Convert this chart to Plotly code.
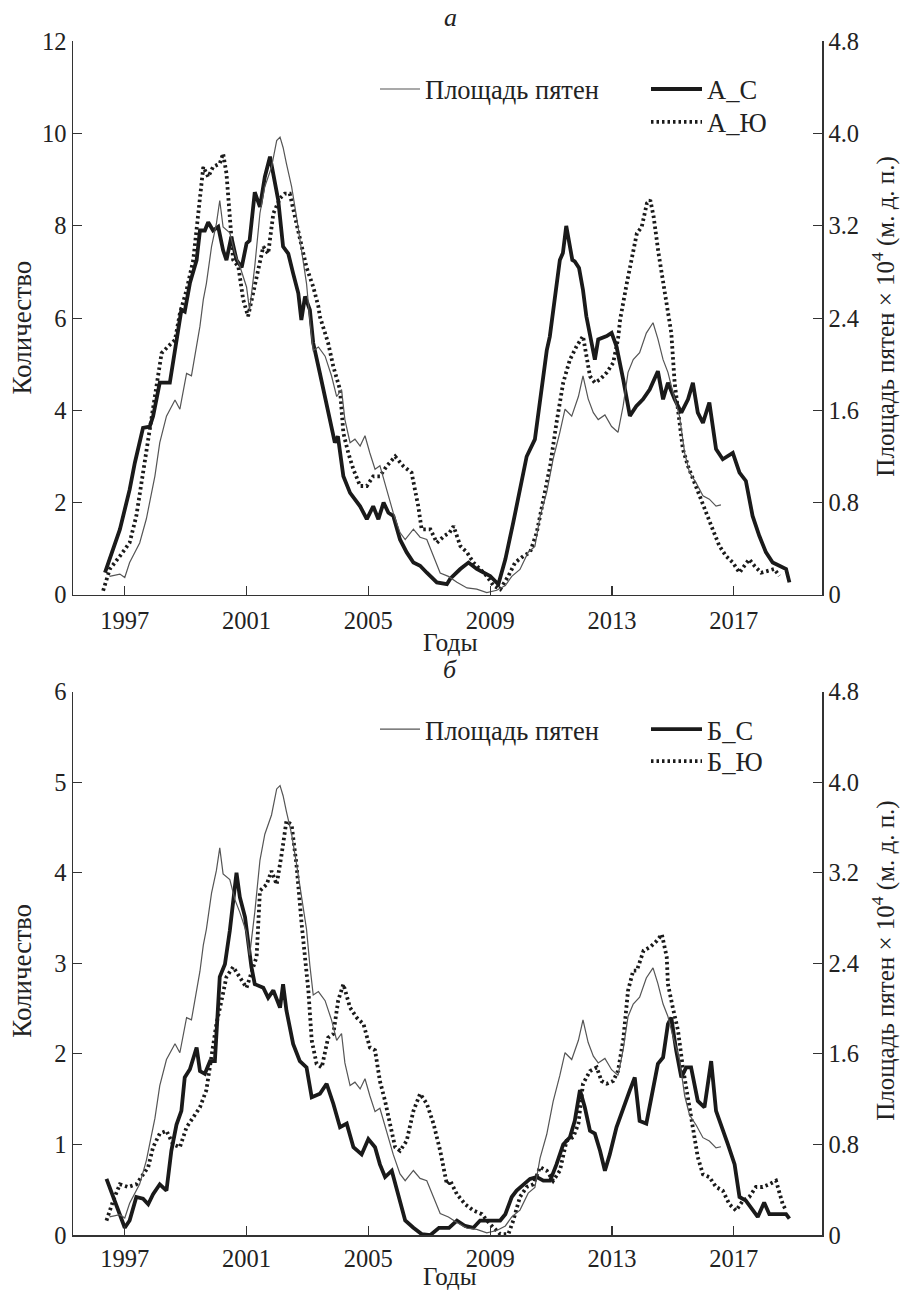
import plotly.graph_objects as go

# ---------------- data ----------------
# sunspot area, x 10^4 millionths of hemisphere (right axis), shared by both panels
area_years = [1996.50, 1996.84, 1997.00, 1997.16, 1997.49, 1997.71, 1997.99, 1998.15, 1998.37, 1998.65,
              1998.81, 1999.03, 1999.19, 1999.47, 1999.58, 1999.68, 1999.85, 2000.01, 2000.12, 2000.23,
              2000.45, 2000.62, 2000.78, 2001.00, 2001.10, 2001.27, 2001.44, 2001.60, 2001.82, 2001.99,
              2002.10, 2002.20, 2002.31, 2002.48, 2002.64, 2002.81, 2002.97, 2003.08, 2003.19, 2003.36,
              2003.58, 2003.79, 2003.96, 2004.12, 2004.23, 2004.40, 2004.56, 2004.73, 2004.89, 2005.05,
              2005.22, 2005.38, 2005.60, 2005.82, 2006.04, 2006.21, 2006.48, 2006.70, 2006.92, 2007.14,
              2007.36, 2007.63, 2007.91, 2008.24, 2008.56, 2008.89, 2009.22, 2009.50, 2009.71, 2009.98,
              2010.25, 2010.47, 2010.64, 2010.86, 2011.07, 2011.29, 2011.46, 2011.68, 2011.90, 2012.05,
              2012.22, 2012.39, 2012.55, 2012.77, 2012.99, 2013.20, 2013.37, 2013.53, 2013.70, 2013.91,
              2014.13, 2014.35, 2014.51, 2014.68, 2014.84, 2015.01, 2015.22, 2015.39, 2015.55, 2015.77,
              2015.99, 2016.20, 2016.42, 2016.58]
area_vals = [0.16, 0.18, 0.15, 0.28, 0.45, 0.66, 1.03, 1.32, 1.55, 1.69,
             1.61, 1.92, 1.90, 2.33, 2.56, 2.70, 3.02, 3.22, 3.42, 3.19,
             3.14, 2.96, 2.85, 2.67, 2.47, 2.85, 3.31, 3.54, 3.71, 3.94,
             3.97, 3.88, 3.74, 3.54, 3.28, 2.99, 2.70, 2.38, 2.12, 2.15,
             2.07, 1.90, 1.72, 1.78, 1.52, 1.32, 1.35, 1.29, 1.38, 1.23,
             1.09, 1.12, 0.92, 0.71, 0.54, 0.48, 0.57, 0.50, 0.48, 0.34,
             0.19, 0.16, 0.11, 0.06, 0.05, 0.02, 0.04, 0.08, 0.16, 0.22,
             0.37, 0.42, 0.68, 0.89, 1.18, 1.41, 1.61, 1.55, 1.72, 1.90,
             1.70, 1.58, 1.52, 1.56, 1.46, 1.41, 1.64, 1.93, 2.04, 2.10,
             2.27, 2.36, 2.22, 2.04, 1.93, 1.75, 1.55, 1.23, 1.06, 0.97,
             0.86, 0.83, 0.77, 0.78]

# panel a: А_С
ac_years = [1996.35, 1996.84, 1997.16, 1997.33, 1997.60, 1997.82, 1997.93, 1998.15, 1998.48, 1998.70,
            1998.86, 1998.97, 1999.14, 1999.36, 1999.47, 1999.63, 1999.74, 1999.90, 2000.07, 2000.23,
            2000.34, 2000.50, 2000.67, 2000.84, 2001.00, 2001.10, 2001.27, 2001.44, 2001.60, 2001.77,
            2001.88, 2002.04, 2002.20, 2002.37, 2002.53, 2002.70, 2002.80, 2002.92, 2003.08, 2003.19,
            2003.41, 2003.68, 2003.90, 2004.00, 2004.18, 2004.40, 2004.73, 2004.95, 2005.16, 2005.33,
            2005.50, 2005.66, 2005.82, 2006.04, 2006.26, 2006.48, 2006.70, 2006.92, 2007.25, 2007.58,
            2007.69, 2008.02, 2008.29, 2008.56, 2008.84, 2009.00, 2009.27, 2009.50, 2009.76, 2009.98,
            2010.20, 2010.47, 2010.64, 2010.86, 2010.96, 2011.07, 2011.18, 2011.29, 2011.39, 2011.50,
            2011.70, 2011.78, 2011.92, 2012.05, 2012.16, 2012.27, 2012.44, 2012.55, 2012.83, 2012.99,
            2013.15, 2013.37, 2013.59, 2013.80, 2014.02, 2014.24, 2014.51, 2014.68, 2014.84, 2015.06,
            2015.28, 2015.50, 2015.66, 2015.82, 2015.99, 2016.20, 2016.42, 2016.64, 2016.97, 2017.19,
            2017.40, 2017.62, 2017.84, 2018.06, 2018.28, 2018.50, 2018.72, 2018.83]
ac_vals = [0.48, 1.42, 2.28, 2.86, 3.62, 3.65, 3.87, 4.60, 4.60, 5.53,
           6.18, 6.14, 6.76, 7.26, 7.90, 7.90, 8.08, 7.90, 7.98, 7.47,
           7.26, 7.76, 7.26, 7.10, 7.62, 7.68, 8.73, 8.41, 9.06, 9.50,
           9.14, 8.56, 7.55, 7.40, 6.97, 6.54, 5.96, 6.47, 6.18, 5.46,
           4.80, 4.02, 3.30, 3.44, 2.57, 2.21, 1.92, 1.64, 1.92, 1.64,
           2.00, 1.78, 1.71, 1.20, 0.92, 0.70, 0.63, 0.48, 0.27, 0.23,
           0.35, 0.56, 0.70, 0.56, 0.45, 0.41, 0.23, 0.77, 1.57, 2.29,
           3.00, 3.37, 4.24, 5.30, 5.60, 6.11, 6.69, 7.26, 7.41, 8.00,
           7.26, 7.23, 7.09, 6.61, 6.04, 5.68, 5.10, 5.54, 5.61, 5.68,
           5.39, 4.67, 3.88, 4.09, 4.24, 4.45, 4.85, 4.24, 4.60, 4.24,
           3.95, 4.24, 4.60, 3.95, 3.73, 4.17, 3.16, 2.94, 3.08, 2.65,
           2.47, 1.71, 1.28, 0.92, 0.70, 0.63, 0.56, 0.27]

# panel a: А_Ю
ay_years = [1996.29, 1996.51, 1996.84, 1997.16, 1997.38, 1997.60, 1997.82, 1998.04, 1998.21, 1998.43,
            1998.65, 1998.81, 1999.03, 1999.25, 1999.41, 1999.58, 1999.74, 1999.90, 2000.12, 2000.23,
            2000.34, 2000.45, 2000.56, 2000.73, 2000.89, 2001.05, 2001.22, 2001.38, 2001.55, 2001.71,
            2001.88, 2002.10, 2002.26, 2002.42, 2002.59, 2002.75, 2002.97, 2003.19, 2003.36, 2003.41,
            2003.68, 2003.85, 2004.07, 2004.18, 2004.34, 2004.51, 2004.73, 2004.95, 2005.16, 2005.38,
            2005.60, 2005.88, 2006.15, 2006.42, 2006.64, 2006.75, 2007.04, 2007.25, 2007.50, 2007.67,
            2007.80, 2008.02, 2008.24, 2008.45, 2008.67, 2008.89, 2009.11, 2009.33, 2009.60, 2009.82,
            2010.09, 2010.31, 2010.53, 2010.75, 2010.97, 2011.18, 2011.40, 2011.62, 2011.84, 2012.05,
            2012.16, 2012.28, 2012.44, 2012.61, 2012.83, 2013.04, 2013.20, 2013.27, 2013.49, 2013.65,
            2013.82, 2013.98, 2014.15, 2014.26, 2014.37, 2014.53, 2014.70, 2014.86, 2014.95, 2015.06,
            2015.22, 2015.33, 2015.50, 2015.66, 2015.88, 2016.10, 2016.31, 2016.53, 2016.75, 2016.97,
            2017.19, 2017.35, 2017.51, 2017.68, 2017.90, 2018.12, 2018.33, 2018.50]
ay_vals = [0.09, 0.56, 0.84, 1.13, 1.71, 2.65, 3.51, 4.52, 5.24, 5.39,
           5.53, 6.10, 6.61, 7.26, 8.27, 9.28, 9.06, 9.28, 9.35, 9.57,
           9.14, 8.20, 7.26, 7.12, 6.40, 6.04, 6.60, 7.04, 7.55, 7.40,
           8.27, 8.60, 8.70, 8.70, 8.20, 7.70, 7.10, 6.68, 6.25, 6.03,
           5.46, 4.95, 4.45, 3.51, 3.08, 2.72, 2.36, 2.36, 2.57, 2.57,
           2.79, 3.00, 2.79, 2.65, 1.92, 1.42, 1.42, 1.13, 1.28, 1.35,
           1.49, 1.06, 0.92, 0.70, 0.56, 0.41, 0.20, 0.12, 0.41, 0.70,
           0.84, 0.92, 1.35, 2.07, 2.79, 3.73, 4.60, 5.10, 5.39, 5.61,
           5.18, 4.74, 4.60, 4.67, 4.82, 5.03, 5.54, 5.97, 6.76, 7.34,
           7.84, 7.98, 8.49, 8.56, 8.20, 7.41, 6.69, 5.97, 5.68, 4.60,
           3.66, 3.16, 2.79, 2.51, 2.14, 1.78, 1.42, 1.06, 0.84, 0.70,
           0.48, 0.63, 0.77, 0.63, 0.48, 0.52, 0.56, 0.41]

# panel б: Б_С
bc_years = [1996.40, 1996.67, 1997.00, 1997.16, 1997.38, 1997.60, 1997.77, 1997.93, 1998.15, 1998.37,
            1998.53, 1998.70, 1998.86, 1998.97, 1999.14, 1999.36, 1999.47, 1999.63, 1999.80, 1999.96,
            2000.12, 2000.29, 2000.45, 2000.67, 2000.78, 2000.95, 2001.10, 2001.16, 2001.27, 2001.55,
            2001.71, 2001.88, 2002.10, 2002.20, 2002.31, 2002.53, 2002.75, 2002.97, 2003.14, 2003.41,
            2003.63, 2003.85, 2004.07, 2004.29, 2004.51, 2004.78, 2005.00, 2005.22, 2005.38, 2005.55,
            2005.77, 2005.99, 2006.21, 2006.48, 2006.75, 2007.04, 2007.32, 2007.65, 2007.91, 2008.18,
            2008.45, 2008.67, 2009.00, 2009.33, 2009.50, 2009.71, 2009.87, 2010.09, 2010.31, 2010.53,
            2010.75, 2010.97, 2011.18, 2011.40, 2011.62, 2011.78, 2011.95, 2012.11, 2012.28, 2012.44,
            2012.61, 2012.77, 2012.93, 2013.15, 2013.37, 2013.59, 2013.75, 2013.91, 2014.13, 2014.35,
            2014.51, 2014.68, 2014.84, 2014.95, 2015.11, 2015.28, 2015.44, 2015.60, 2015.82, 2016.04,
            2016.26, 2016.42, 2016.58, 2016.81, 2017.03, 2017.19, 2017.40, 2017.62, 2017.79, 2018.00,
            2018.17, 2018.44, 2018.72, 2018.83]
bc_vals = [0.62, 0.38, 0.08, 0.16, 0.42, 0.40, 0.34, 0.45, 0.56, 0.49,
           0.93, 1.22, 1.37, 1.74, 1.83, 2.07, 1.81, 1.78, 1.92, 1.92,
           2.85, 2.99, 3.36, 4.00, 3.73, 3.51, 3.07, 2.96, 2.77, 2.73,
           2.62, 2.70, 2.51, 2.77, 2.48, 2.11, 1.92, 1.85, 1.52, 1.56,
           1.67, 1.45, 1.19, 1.23, 0.97, 0.89, 1.06, 0.97, 0.78, 0.64,
           0.71, 0.42, 0.16, 0.08, 0.01, 0.00, 0.08, 0.08, 0.16, 0.10,
           0.08, 0.16, 0.16, 0.16, 0.23, 0.42, 0.49, 0.56, 0.62, 0.64,
           0.60, 0.60, 0.78, 1.00, 1.08, 1.26, 1.60, 1.41, 1.15, 1.12,
           0.93, 0.71, 0.89, 1.19, 1.41, 1.60, 1.74, 1.26, 1.23, 1.60,
           1.89, 1.96, 2.33, 2.40, 2.04, 1.74, 1.85, 1.85, 1.48, 1.41,
           1.92, 1.37, 1.23, 1.00, 0.78, 0.42, 0.38, 0.27, 0.20, 0.36,
           0.23, 0.23, 0.23, 0.18]

# panel б: Б_Ю
by_years = [1996.40, 1996.62, 1996.84, 1997.11, 1997.38, 1997.60, 1997.77, 1997.93, 1998.15, 1998.37,
            1998.59, 1998.81, 1999.03, 1999.25, 1999.47, 1999.68, 1999.85, 2000.01, 2000.18, 2000.34,
            2000.56, 2000.78, 2001.00, 2001.22, 2001.33, 2001.44, 2001.66, 2001.82, 2001.99, 2002.15,
            2002.31, 2002.48, 2002.64, 2002.81, 2002.97, 2003.03, 2003.14, 2003.30, 2003.47, 2003.68,
            2003.85, 2004.01, 2004.18, 2004.40, 2004.62, 2004.84, 2005.05, 2005.22, 2005.38, 2005.55,
            2005.71, 2005.88, 2006.04, 2006.26, 2006.48, 2006.70, 2006.92, 2007.14, 2007.36, 2007.58,
            2007.69, 2007.91, 2008.18, 2008.45, 2008.73, 2009.00, 2009.33, 2009.60, 2009.76, 2009.98,
            2010.20, 2010.42, 2010.64, 2010.86, 2011.07, 2011.29, 2011.51, 2011.73, 2011.90, 2012.05,
            2012.28, 2012.50, 2012.66, 2012.83, 2013.04, 2013.20, 2013.37, 2013.53, 2013.70, 2013.82,
            2014.04, 2014.26, 2014.48, 2014.64, 2014.80, 2014.84, 2015.00, 2015.17, 2015.33, 2015.50,
            2015.66, 2015.82, 2015.99, 2016.20, 2016.42, 2016.64, 2016.86, 2017.08, 2017.30, 2017.51,
            2017.73, 2017.95, 2018.17, 2018.39, 2018.61, 2018.72]
by_vals = [0.16, 0.38, 0.56, 0.53, 0.56, 0.67, 0.75, 0.97, 1.12, 1.15,
           1.00, 0.97, 1.19, 1.30, 1.41, 1.60, 1.96, 2.33, 2.59, 2.85,
           2.96, 2.85, 2.73, 2.96, 3.07, 3.80, 3.87, 4.02, 3.87, 4.20,
           4.57, 4.53, 4.09, 3.43, 2.85, 2.70, 2.15, 1.89, 1.85, 2.18,
           2.22, 2.59, 2.77, 2.51, 2.40, 2.33, 2.07, 2.04, 1.70, 1.48,
           1.23, 0.97, 0.93, 1.04, 1.37, 1.56, 1.45, 1.23, 0.93, 0.56,
           0.60, 0.45, 0.34, 0.27, 0.23, 0.12, 0.01, 0.01, 0.16, 0.42,
           0.53, 0.56, 0.75, 0.71, 0.60, 0.71, 1.04, 1.08, 1.23, 1.67,
           1.81, 1.85, 1.70, 1.67, 1.70, 1.81, 2.15, 2.70, 2.92, 2.92,
           3.14, 3.18, 3.25, 3.32, 3.07, 2.77, 2.51, 2.26, 1.85, 1.52,
           1.15, 0.86, 0.67, 0.64, 0.53, 0.49, 0.34, 0.27, 0.38, 0.42,
           0.53, 0.53, 0.56, 0.60, 0.34, 0.27]

year_ticks = [1997, 2001, 2005, 2009, 2013, 2017]
left_ticks_a = [0, 2, 4, 6, 8, 10, 12]
left_ticks_b = [0, 1, 2, 3, 4, 5, 6]
right_ticks = [0, 0.8, 1.6, 2.4, 3.2, 4.0, 4.8]
right_ticktext = ["0", "0.8", "1.6", "2.4", "3.2", "4.0", "4.8"]

# ---------------- figure ----------------
FONT = "Liberation Serif"
W, H = 900, 1299
INK = "#222222"

# Layout targets are in picture pixels; the photographed page appears slightly
# reduced vertically and framed, so vertical targets are converted to page pixels.
SY, OY = 0.982, 12.5

def px_x(t):
    return t / W

def page_y(t):
    return (t - OY) / SY

def px_y(t):
    return min(max(1 - page_y(t) / H, 0.0), 1.0)

thin = dict(color="#555555", width=1.2)
thick = dict(color="#1a1a1a", width=3.8)
dotted = dict(color="#1a1a1a", width=3.8, dash="2.5px,3px")

fig = go.Figure()
traces = [
    (area_years, area_vals, "x", "y2", thin, "Площадь пятен", "legend"),
    (ac_years, ac_vals, "x", "y", thick, "А_С", "legend2"),
    (ay_years, ay_vals, "x", "y", dotted, "А_Ю", "legend3"),
    (area_years, area_vals, "x2", "y4", thin, "Площадь пятен", "legend4"),
    (bc_years, bc_vals, "x2", "y3", thick, "Б_С", "legend5"),
    (by_years, by_vals, "x2", "y3", dotted, "Б_Ю", "legend6"),
]
for xs, ys, xa, ya, ln, nm, lg in traces:
    fig.add_trace(go.Scatter(x=xs, y=ys, xaxis=xa, yaxis=ya, mode="lines", line=ln,
                             name=nm, legend=lg, hoverinfo="skip"))

xdom = [px_x(73), px_x(822)]
axis_common = dict(showline=True, linecolor="#333333", linewidth=1.5, ticks="inside",
                   ticklen=9, tickwidth=1.2, tickcolor="#333333", showgrid=False,
                   zeroline=False, tickfont=dict(family=FONT, size=24.5, color=INK))

def leg(xt, yt, iw):
    return dict(x=px_x(xt), y=px_y(yt), xanchor="left", yanchor="middle", itemwidth=iw,
                bgcolor="rgba(0,0,0,0)", font=dict(family=FONT, size=26.5, color=INK),
                tracegroupgap=0)

fig.update_layout(
    width=W, height=H, margin=dict(l=0, r=0, t=0, b=0),
    paper_bgcolor="white", plot_bgcolor="white", showlegend=True,
    font=dict(family=FONT, size=24.5, color=INK),
    xaxis=dict(domain=xdom, anchor="y", range=[1995.3, 2019.9], tickvals=year_ticks,
               ticklabelstandoff=3, **axis_common),
    yaxis=dict(domain=[px_y(596), px_y(41)], anchor="x", range=[0, 12], tickvals=left_ticks_a, **axis_common),
    yaxis2=dict(overlaying="y", side="right", anchor="x", range=[0, 4.8], tickvals=right_ticks,
                ticktext=right_ticktext, **axis_common),
    xaxis2=dict(domain=xdom, anchor="y3", range=[1995.3, 2019.9], tickvals=year_ticks,
                ticklabelstandoff=1, **axis_common),
    yaxis3=dict(domain=[px_y(1238), px_y(693)], anchor="x2", range=[0, 6], tickvals=left_ticks_b, **axis_common),
    yaxis4=dict(overlaying="y3", side="right", anchor="x2", range=[0, 4.8], tickvals=right_ticks,
                ticktext=right_ticktext, **axis_common),
    legend=leg(375, 89, 40),
    legend2=leg(646, 89, 51),
    legend3=leg(646, 122, 51),
    legend4=leg(375, 731, 40),
    legend5=leg(646, 731, 51),
    legend6=leg(646, 763, 51),
)

ann = [
    dict(text="<i>а</i>", x=px_x(450), y=1 - 5 / H, size=26),
    dict(text="<i>б</i>", x=px_x(450), y=px_y(671), size=26),
    dict(text="Годы", x=px_x(450), y=px_y(644), size=25.5),
    dict(text="Годы", x=px_x(450), y=1 - 1290 / H, size=25),
]
for a in ann:
    fig.add_annotation(text=a["text"], x=a["x"], y=a["y"], xref="paper", yref="paper",
                       xanchor="center", yanchor="middle", showarrow=False,
                       font=dict(family=FONT, size=a["size"], color=INK))

for yl, yr in ((328, 317), (973, 963)):
    fig.add_annotation(text="Количество", x=px_x(22), y=px_y(yl), xref="paper", yref="paper",
                       textangle=-90, showarrow=False, xanchor="center", yanchor="middle",
                       font=dict(family=FONT, size=27, color=INK))
    fig.add_annotation(text="Площадь пятен × 10<sup>4</sup> (м. д. п.)", x=px_x(884), y=px_y(yr),
                       xref="paper", yref="paper", textangle=-90, showarrow=False,
                       xanchor="center", yanchor="middle",
                       font=dict(family=FONT, size=25, color=INK))

post = ("document.documentElement.style.margin='0';document.body.style.margin='0';"
        "document.documentElement.style.overflow='hidden';document.body.style.overflow='hidden';")
fig.write_html("out.html", config={"displayModeBar": False, "staticPlot": True}, post_script=post)
